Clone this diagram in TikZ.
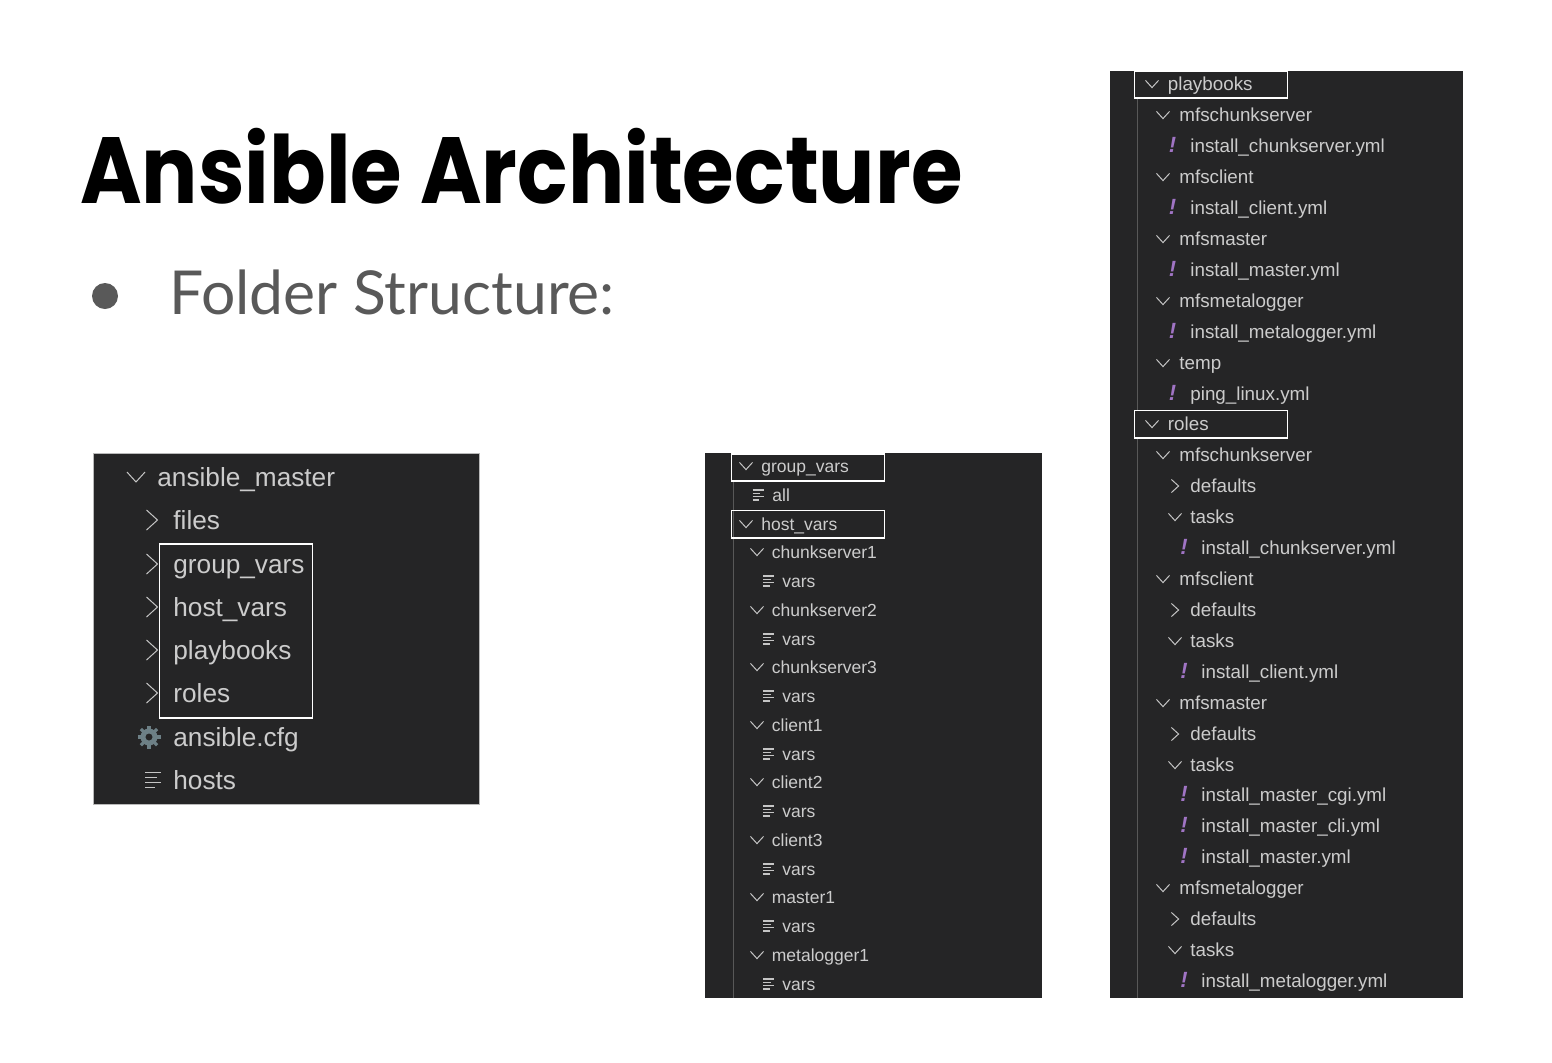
\documentclass[tikz,border=0pt]{standalone}
\usepackage{fontspec}
\usepackage{graphicx}
\setmainfont{Liberation Sans}
\newfontfamily\titlefont{Poppins}
\newfontfamily\bodyfont{Lato}
\definecolor{panel}{HTML}{252526}
\definecolor{treetext}{HTML}{CCCCCC}
\definecolor{guide}{HTML}{585858}
\definecolor{chev}{HTML}{C5C5C5}
\definecolor{yamlpurple}{HTML}{A074C4}
\definecolor{gearcol}{HTML}{6D8086}
\definecolor{slidegray}{HTML}{595959}
\tikzset{
  x=0.5pt,y=-0.5pt,
  panelbox/.style={fill=panel,draw=none},
  hilite/.style={draw=white,line width=0.95pt},
  guideline/.style={draw=guide,line width=0.5pt},
  leftrow/.style={anchor=base west,inner sep=0pt,text=treetext,font=\fontsize{13.1}{15}\selectfont},
  midrow/.style={anchor=base west,inner sep=0pt,text=treetext,font=\fontsize{8.75}{11}\selectfont},
  rightrow/.style={anchor=base west,inner sep=0pt,text=treetext,font=\fontsize{9.4}{11}\selectfont},
  chevron/.style={draw=chev,line width=0.5pt,line join=miter},
  lineicon/.style={draw=chev,line width=0.6pt},
  bang/.style={anchor=base,inner sep=0pt,text=yamlpurple,font=\bfseries\itshape\fontsize{11}{12}\selectfont},
}
% chevrons: centre x, centre y, half size
\newcommand{\chevdown}[3]{\draw[chevron] (#1-#3,#2-#3*0.55) -- (#1,#2+#3*0.55) -- (#1+#3,#2-#3*0.55);}
\newcommand{\chevright}[3]{\draw[chevron] (#1-#3*0.55,#2-#3) -- (#1+#3*0.55,#2) -- (#1-#3*0.55,#2+#3);}
% list icon: left x, centre y, width
\newcommand{\listicon}[3]{%
  \draw[lineicon] (#1,#2-#3*0.45) -- ++(#3,0);
  \draw[lineicon] (#1,#2-#3*0.15) -- ++(#3*0.72,0);
  \draw[lineicon] (#1,#2+#3*0.15) -- ++(#3,0);
  \draw[lineicon] (#1,#2+#3*0.45) -- ++(#3*0.6,0);}
\begin{document}
\begin{tikzpicture}
\useasboundingbox (0,0) rectangle (1552,1062);
\fill[white] (0,0) rectangle (1552,1062);

% title and bullet
\node[anchor=base west,inner sep=0pt,text=black,font=\titlefont\bfseries\fontsize{47}{50}\selectfont] (title) at (80,203) {\scalebox{0.889}[1]{Ansible Architecture}};
\fill[slidegray] (105,296) circle (13);
\node[anchor=base west,inner sep=0pt,text=slidegray,font=\bodyfont\fontsize{30.3}{32}\selectfont] (sub) at (169,314) {Folder Structure:};

% left panel
\fill[panelbox] (93,453) rectangle (479,804);
\draw[gray!55,line width=0.4pt] (93,453) rectangle (479,804);
\chevdown{136}{477}{9}
\foreach \yy in {520,564,607,650,693}{\chevright{152}{\yy}{10}}
\node[leftrow] (l1) at (157,486) {ansible\_master};
\foreach \yy/\tt [count=\i from 2] in {529/files,573/group\_vars,616/host\_vars,659/playbooks,702/roles,746/ansible.cfg,789/hosts}
  {\node[leftrow] (l\i) at (173,\yy) {\tt};}
\draw[hilite] (159.5,544) rectangle (312.5,718);
% gear
\fill[gearcol,even odd rule] (149,737) circle (8.5) (149,737) circle (3.6);
\foreach \a in {0,45,...,315}{\draw[gearcol,line width=1.6pt] (149,737) ++(\a:7.5) -- ++(\a:4);}
\listicon{145}{780}{16}

% middle panel
\fill[panelbox] (705,453) rectangle (1042,998);
\draw[guideline] (733,480) -- (733,998);
\foreach \yy in {466,524}{\chevdown{746}{\yy}{6.5}}
\node[midrow] (m1) at (761,472) {group\_vars};
\node[midrow] (m2) at (772,501) {all};
\listicon{752.5}{495}{11}
\node[midrow] (m3) at (761,530) {host\_vars};
\foreach \yy/\tt [count=\i from 4] in {552/chunkserver1,610/chunkserver2,667/chunkserver3,725/client1,782/client2,840/client3,897/master1,955/metalogger1}
  {\chevdown{757}{\yy}{6.5}
   \node[midrow] (mf\i) at (771.5,\yy+6) {\tt};}
\foreach \yy [count=\i] in {581,639,696,754,811,869,926,984}
  {\listicon{763}{\yy}{11}
   \node[midrow] (mv\i) at (782,\yy+6) {vars};}
\draw[hilite] (731.5,454) rectangle (884.5,481);
\draw[hilite] (731.5,510.5) rectangle (884.5,538);

% right panel
\fill[panelbox] (1110,71) rectangle (1463,998);
\draw[guideline] (1137,98) -- (1137,410);
\draw[guideline] (1137,438) -- (1137,998);
\foreach \yy/\tt [count=\i] in {84/playbooks,424/roles}
  {\chevdown{1152}{\yy}{6.5}
   \node[rightrow] (ra\i) at (1167.5,\yy+6.5) {\tt};}
\foreach \yy/\tt [count=\i] in {115/mfschunkserver,177/mfsclient,239/mfsmaster,301/mfsmetalogger,363/temp,455/mfschunkserver,579/mfsclient,703/mfsmaster,888/mfsmetalogger}
  {\chevdown{1163}{\yy}{6.5}
   \node[rightrow] (rb\i) at (1179,\yy+6.5) {\tt};}
\foreach \yy/\tt [count=\i] in {146/install\_chunkserver.yml,208/install\_client.yml,270/install\_master.yml,332/install\_metalogger.yml,394/ping\_linux.yml}
  {\node[bang] (rx\i) at (1172.5,\yy+6.5) {!};
   \node[rightrow] (rc\i) at (1190,\yy+6.5) {\tt};}
\foreach \yy [count=\i] in {486,610,734,919}
  {\chevright{1175}{\yy}{6.5}
   \node[rightrow] (rd\i) at (1190,\yy+6.5) {defaults};}
\foreach \yy [count=\i] in {517,641,765,950}
  {\chevdown{1175}{\yy}{6.5}
   \node[rightrow] (rt\i) at (1190,\yy+6.5) {tasks};}
\foreach \yy/\tt [count=\i] in {548/install\_chunkserver.yml,672/install\_client.yml,795/install\_master\_cgi.yml,826/install\_master\_cli.yml,857/install\_master.yml,981/install\_metalogger.yml}
  {\node[bang] (ry\i) at (1184,\yy+6.5) {!};
   \node[rightrow] (re\i) at (1201,\yy+6.5) {\tt};}
\draw[hilite] (1134.5,71) rectangle (1287.5,98);
\draw[hilite] (1134.5,410.5) rectangle (1287.5,438);
\end{tikzpicture}
\end{document}
